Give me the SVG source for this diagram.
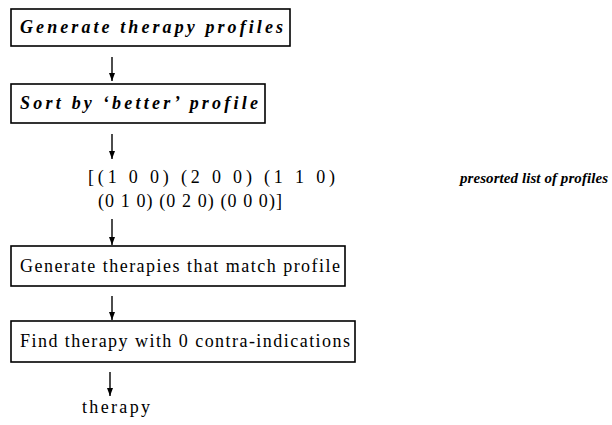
<svg xmlns="http://www.w3.org/2000/svg" width="612" height="425" viewBox="0 0 612 425">
<defs>
<marker id="ah" viewBox="0 0 8 8" refX="8" refY="4" markerWidth="8" markerHeight="8" markerUnits="userSpaceOnUse" orient="auto">
<path d="M0,1 L8,4 L0,7 Z" fill="#000"/>
</marker>
<style>
.box{fill:#fff;stroke:#000;stroke-width:1.6}
.t{font-family:"Liberation Serif","DejaVu Serif",serif;font-size:18px;fill:#000}
.i{font-style:italic;font-weight:bold}
.n{font-size:15px}
.c{stroke:#000;stroke-width:1.4;fill:none;marker-end:url(#ah)}
</style>
</defs>
<rect width="612" height="425" fill="#fff"/>
<g id="connectors">
<line class="c" x1="112" y1="57" x2="112" y2="81"/>
<line class="c" x1="112" y1="134" x2="112" y2="159"/>
<line class="c" x1="112" y1="219" x2="112" y2="245"/>
<line class="c" x1="112" y1="296" x2="112" y2="320"/>
<line class="c" x1="110" y1="372" x2="110" y2="396"/>
</g>
<g id="n1">
<rect class="box" x="11" y="9" width="279" height="37"/>
<text class="t i" x="20" y="33" textLength="263" lengthAdjust="spacing">Generate therapy profiles</text>
</g>
<g id="n2">
<rect class="box" x="11" y="84" width="254" height="39"/>
<text class="t i" x="20" y="109" textLength="238" lengthAdjust="spacing">Sort by ‘better’ profile</text>
</g>
<g id="list">
<text class="t" x="88" y="183" textLength="247" lengthAdjust="spacing">[(1 0 0) (2 0 0) (1 1 0)</text>
<text class="t" x="98" y="207" textLength="184" lengthAdjust="spacing">(0 1 0) (0 2 0) (0 0 0)]</text>
</g>
<g id="note">
<text class="t i n" x="460" y="183" textLength="148" lengthAdjust="spacing">presorted list of profiles</text>
</g>
<g id="n3">
<rect class="box" x="11" y="246" width="334" height="40"/>
<text class="t" x="20" y="272" textLength="320" lengthAdjust="spacing">Generate therapies that match profile</text>
</g>
<g id="n4">
<rect class="box" x="11" y="321" width="344" height="41"/>
<text class="t" x="20" y="347" textLength="330" lengthAdjust="spacing">Find therapy with 0 contra-indications</text>
</g>
<g id="out">
<text class="t" x="82" y="413" textLength="68" lengthAdjust="spacing">therapy</text>
</g>
</svg>
